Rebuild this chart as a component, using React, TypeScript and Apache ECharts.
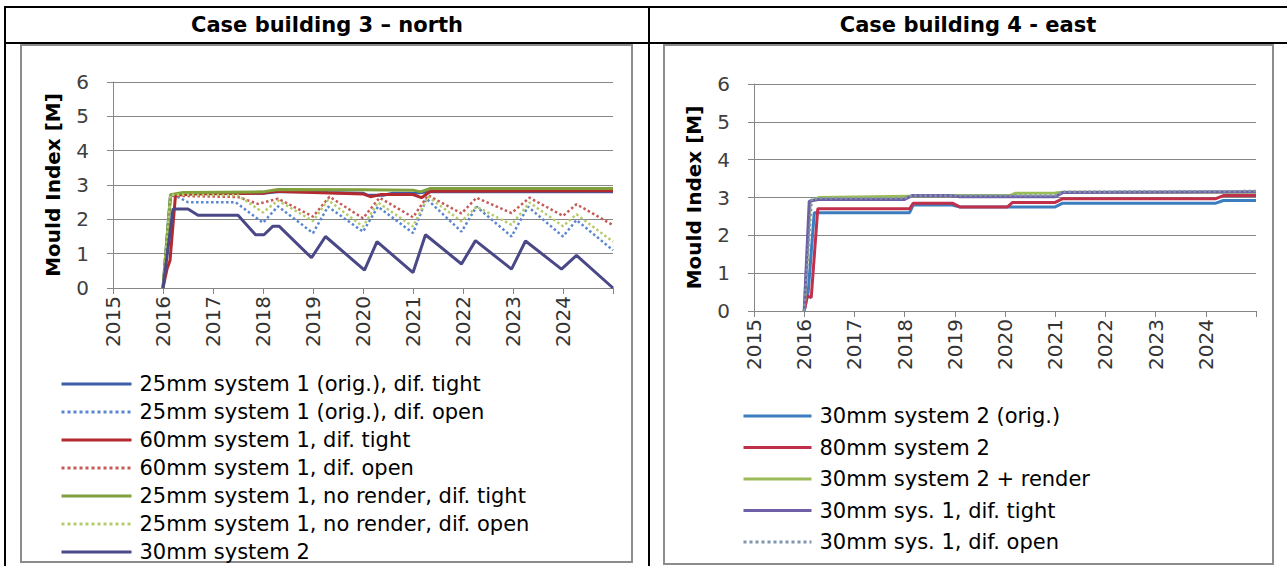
import React, { useEffect, useRef } from 'react';
import * as echarts from 'echarts';

// ---------- texts ----------
const leftTitle = 'Case building 3 – north';
const rightTitle = 'Case building 4 - east';
const yTitle = 'Mould Index [M]';

// ---------- left chart (case building 3 – north) ----------
const leftNames = [
  '25mm system 1 (orig.), dif. tight',
  '25mm system 1 (orig.), dif. open',
  '60mm system 1, dif. tight',
  '60mm system 1, dif. open',
  '25mm system 1, no render, dif. tight',
  '25mm system 1, no render, dif. open',
  '30mm system 2',
];
const leftColors = ['#3B5EAB', '#5A86D0', '#B3292E', '#C65A57', '#7FA03A', '#B5CB6E', '#4A4886'];
const leftDotted = [false, true, false, true, false, true, false];

const l25Tight: number[][] = [
  [2016.0, 0], [2016.15, 2.7], [2016.5, 2.75], [2018.0, 2.76], [2018.3, 2.8], [2019.0, 2.8],
  [2019.3, 2.78], [2020.0, 2.76], [2020.1, 2.7], [2020.4, 2.7], [2020.6, 2.76], [2021.0, 2.75],
  [2021.3, 2.8], [2025.0, 2.8],
];
const l25Open: number[][] = [
  [2016.0, 0], [2016.15, 2.7], [2016.3, 2.65], [2016.5, 2.5], [2017.45, 2.5], [2018.0, 1.9],
  [2018.3, 2.38], [2019.0, 1.6], [2019.3, 2.37], [2020.0, 1.64], [2020.3, 2.37], [2021.0, 1.6],
  [2021.27, 2.6], [2021.97, 1.64], [2022.27, 2.37], [2022.97, 1.5], [2023.3, 2.37], [2024.0, 1.5],
  [2024.27, 1.98], [2025.0, 1.1],
];
const l60Tight: number[][] = [
  [2016.0, 0], [2016.08, 0.55], [2016.14, 0.8], [2016.25, 2.7], [2016.6, 2.74], [2018.0, 2.76],
  [2018.2, 2.82], [2019.0, 2.78], [2020.0, 2.74], [2020.15, 2.66], [2020.35, 2.72], [2021.0, 2.72],
  [2021.17, 2.63], [2021.35, 2.82], [2025.0, 2.83],
];
const l60Open: number[][] = [
  [2016.0, 0], [2016.15, 2.7], [2016.4, 2.68], [2017.5, 2.65], [2017.9, 2.45], [2018.3, 2.6],
  [2019.0, 2.08], [2019.33, 2.66], [2020.0, 2.03], [2020.33, 2.63], [2021.0, 2.06], [2021.3, 2.7],
  [2021.97, 2.17], [2022.27, 2.63], [2022.97, 2.18], [2023.33, 2.63], [2024.0, 2.1], [2024.27, 2.44],
  [2025.0, 1.83],
];
const lNoRenderTight: number[][] = [
  [2016.0, 0], [2016.15, 2.72], [2016.4, 2.78], [2018.0, 2.8], [2018.3, 2.87], [2020.0, 2.86],
  [2021.0, 2.85], [2021.15, 2.8], [2021.35, 2.9], [2025.0, 2.9],
];
const lNoRenderOpen: number[][] = [
  [2016.0, 0], [2016.15, 2.72], [2017.5, 2.7], [2018.0, 2.2], [2018.3, 2.55], [2019.0, 1.95],
  [2019.3, 2.56], [2020.0, 1.79], [2020.3, 2.49], [2021.0, 1.79], [2021.3, 2.66], [2021.97, 1.94],
  [2022.27, 2.37], [2022.97, 1.84], [2023.33, 2.49], [2024.0, 1.8], [2024.27, 2.15], [2025.0, 1.35],
];
const l30Sys2: number[][] = [
  [2016.0, 0], [2016.2, 2.3], [2016.5, 2.3], [2016.7, 2.12], [2017.5, 2.12], [2017.85, 1.55],
  [2018.02, 1.55], [2018.2, 1.8], [2018.32, 1.8], [2018.97, 0.88], [2019.25, 1.5], [2020.03, 0.52],
  [2020.28, 1.35], [2021.0, 0.45], [2021.25, 1.55], [2021.97, 0.7], [2022.25, 1.38], [2022.97, 0.55],
  [2023.25, 1.37], [2023.97, 0.55], [2024.27, 0.95], [2025.0, 0.0],
];
const leftData = [l25Tight, l25Open, l60Tight, l60Open, lNoRenderTight, lNoRenderOpen, l30Sys2];

// ---------- right chart (case building 4 - east) ----------
const rightNames = [
  '30mm system 2 (orig.)',
  '80mm system 2',
  '30mm system 2 + render',
  '30mm sys. 1, dif. tight',
  '30mm sys. 1, dif. open',
];
const rightColors = ['#3C7DC0', '#C0304A', '#9BBB59', '#6E5FA6', '#7F95AD'];
const rightDotted = [false, false, false, false, true];

const r30Orig: number[][] = [
  [2016.0, 0], [2016.08, 0.5], [2016.2, 2.6], [2018.1, 2.6], [2018.17, 2.8], [2018.95, 2.8],
  [2019.1, 2.75], [2021.0, 2.75], [2021.15, 2.85], [2024.2, 2.85], [2024.35, 2.92], [2025.0, 2.92],
];
const r80: number[][] = [
  [2016.0, 0], [2016.06, 0.4], [2016.14, 0.35], [2016.27, 2.7], [2018.1, 2.7], [2018.17, 2.85],
  [2018.95, 2.85], [2019.1, 2.75], [2020.05, 2.75], [2020.15, 2.87], [2021.0, 2.87], [2021.15, 2.97],
  [2024.2, 2.97], [2024.35, 3.05], [2025.0, 3.05],
];
const r30Render: number[][] = [
  [2016.0, 0], [2016.12, 2.9], [2016.3, 3.0], [2018.1, 3.03], [2018.2, 3.05], [2020.1, 3.05],
  [2020.2, 3.11], [2021.0, 3.12], [2021.15, 3.14], [2025.0, 3.14],
];
const r30Sys1Tight: number[][] = [
  [2016.0, 0], [2016.1, 2.9], [2016.3, 2.95], [2018.0, 2.95], [2018.15, 3.05], [2018.9, 3.05],
  [2019.1, 3.02], [2021.0, 3.02], [2021.15, 3.13], [2025.0, 3.15],
];
const r30Sys1Open: number[][] = [
  [2016.0, 0], [2016.15, 2.95], [2016.3, 2.98], [2018.0, 2.98], [2018.15, 3.05], [2021.0, 3.05],
  [2021.15, 3.15], [2025.0, 3.17],
];
const rightData = [r30Orig, r80, r30Render, r30Sys1Tight, r30Sys1Open];

const FONT = "'DejaVu Sans', sans-serif";
const AXIS_GRAY = '#868686';

function xAxisCfg(gridIndex: number) {
  return {
    type: 'value',
    gridIndex,
    min: 2015,
    max: 2025,
    interval: 1,
    axisLine: { show: true, onZero: false, lineStyle: { color: AXIS_GRAY, width: 1 } },
    axisTick: { show: true, length: 6, lineStyle: { color: AXIS_GRAY } },
    splitLine: { show: false },
    axisLabel: {
      rotate: 90,
      margin: 8,
      fontFamily: FONT,
      fontSize: 20,
      color: '#333',
      formatter: (v: number) => (v === 2025 ? '' : String(v)),
    },
  };
}

function yAxisCfg(gridIndex: number, nameGap: number) {
  return {
    type: 'value',
    gridIndex,
    min: 0,
    max: 6,
    interval: 1,
    name: yTitle,
    nameLocation: 'middle',
    nameGap,
    nameTextStyle: { fontFamily: FONT, fontSize: 20, fontWeight: 'bold', color: '#000' },
    axisLine: { show: true, lineStyle: { color: AXIS_GRAY, width: 1 } },
    axisTick: { show: true, length: 6, lineStyle: { color: AXIS_GRAY } },
    splitLine: { show: true, lineStyle: { color: AXIS_GRAY, width: 1 } },
    axisLabel: { margin: 24, fontFamily: FONT, fontSize: 20, color: '#404040' },
  };
}

export default function App() {
  const ref = useRef<HTMLDivElement>(null);

  useEffect(() => {
    if (!ref.current) return;
    const chart = echarts.init(ref.current, undefined, { renderer: 'svg' });

    const series: any[] = [];
    leftData.forEach((d, i) => {
      series.push({
        name: leftNames[i],
        type: 'line',
        xAxisIndex: 0,
        yAxisIndex: 0,
        data: d,
        symbol: 'none',
        color: leftColors[i],
        lineStyle: { color: leftColors[i], width: leftDotted[i] ? 2.5 : 3, type: leftDotted[i] ? 'dotted' : 'solid' },
      });
    });
    rightData.forEach((d, i) => {
      series.push({
        name: rightNames[i],
        type: 'line',
        xAxisIndex: 1,
        yAxisIndex: 1,
        data: d,
        symbol: 'none',
        color: rightColors[i],
        lineStyle: { color: rightColors[i], width: rightDotted[i] ? 2.5 : 3, type: rightDotted[i] ? 'dotted' : 'solid' },
      });
    });

    const line = (x1: number, y1: number, x2: number, y2: number) => ({
      type: 'line',
      shape: { x1, y1, x2, y2 },
      style: { stroke: '#000', lineWidth: 2 },
      silent: true,
    });

    const legendCommon = {
      orient: 'vertical',
      padding: 0,
      itemHeight: 14,
      itemStyle: { opacity: 0, borderWidth: 0 },
      lineStyle: { width: 3 },
      textStyle: { fontFamily: FONT, fontSize: 21, color: '#000', lineHeight: 22, padding: [0, 0, 0, 3] },
    };

    chart.setOption({
      animation: false,
      backgroundColor: '#fff',
      grid: [
        { left: 113, right: 1287 - 613, top: 82, bottom: 566 - 288 },
        { left: 754, right: 1287 - 1256, top: 84, bottom: 566 - 311 },
      ],
      xAxis: [xAxisCfg(0), xAxisCfg(1)],
      yAxis: [yAxisCfg(0, 50), yAxisCfg(1, 50)],
      legend: [
        {
          ...legendCommon,
          data: leftNames,
          left: 60,
          top: 373,
          itemWidth: 70,
          itemGap: 6,
        },
        {
          ...legendCommon,
          data: rightNames,
          left: 742,
          top: 405,
          itemWidth: 68,
          itemGap: 9.5,
        },
      ],
      graphic: [
        {
          type: 'rect',
          shape: { x: 21, y: 45, width: 611, height: 517 },
          style: { fill: 'none', stroke: '#8c8c8c', lineWidth: 2 },
          silent: true,
        },
        {
          type: 'rect',
          shape: { x: 664, y: 45, width: 609, height: 519 },
          style: { fill: 'none', stroke: '#8c8c8c', lineWidth: 2 },
          silent: true,
        },
        line(4, 7, 1287, 7),
        line(4, 43, 1287, 43),
        line(5, 6, 5, 566),
        line(649, 6, 649, 566),
        {
          type: 'text',
          x: 327,
          y: 25,
          style: {
            text: leftTitle,
            fontFamily: FONT,
            fontSize: 21,
            fontWeight: 'bold',
            fill: '#000',
            align: 'center',
            verticalAlign: 'middle',
          },
        },
        {
          type: 'text',
          x: 968,
          y: 25,
          style: {
            text: rightTitle,
            fontFamily: FONT,
            fontSize: 21,
            fontWeight: 'bold',
            fill: '#000',
            align: 'center',
            verticalAlign: 'middle',
          },
        },
      ],
      series,
    });

    return () => chart.dispose();
  }, []);

  return (
    <div
      ref={ref}
      style={{ position: 'absolute', left: 0, top: 0, width: 1287, height: 566 }}
    />
  );
}
